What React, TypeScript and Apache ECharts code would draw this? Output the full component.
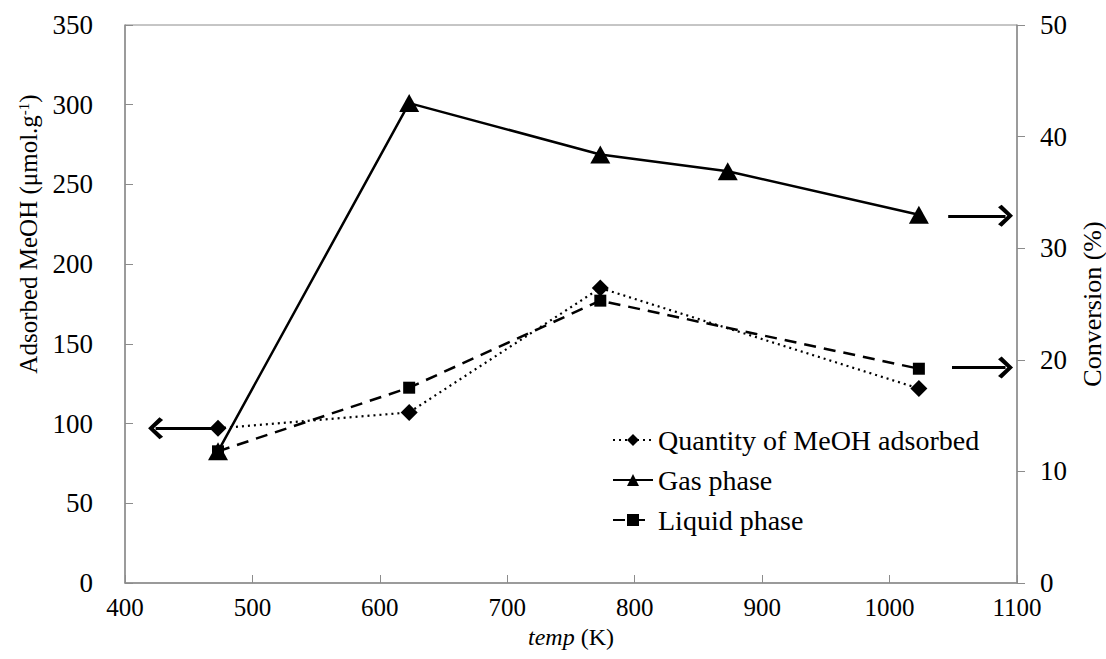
import React, { useEffect, useRef } from "react";
import * as echarts from "echarts";

const adsorbed: number[][] = [[473, 97], [623, 107], [773, 185], [1023, 122]];
const gasPhase: number[][] = [[473, 11.8], [623, 43.0], [773, 38.4], [873, 36.9], [1023, 33.0]];
const liquidPhase: number[][] = [[473, 11.8], [623, 17.5], [773, 25.3], [1023, 19.2]];
const seriesNames = ["Quantity of MeOH adsorbed", "Gas phase", "Liquid phase"];
const xTicks = { min: 400, max: 1100, interval: 100 };
const leftTicks = { min: 0, max: 350, interval: 50 };
const rightTicks = { min: 0, max: 50, interval: 10 };
// annotation arrows: [xStart, xEnd, y]
const leftArrow = [468, 424, 97];
const rightArrows = [[1046, 1091, 32.9], [1049, 1091, 19.3]];

const FONT = "'Liberation Serif', 'Times New Roman', serif";
const AXIS_COLOR = "#8c8c8c";
const chevron = "path://M0,0 L13,11 L10,14.5 L0,5.5 L-10,14.5 L-13,11 Z";

export default function App() {
  const ref = useRef<HTMLDivElement>(null);
  useEffect(() => {
    if (!ref.current) return;
    document.body.style.margin = "0";
    const chart = echarts.init(ref.current, null, { renderer: "svg" });
    const arrowLine = (x0: number, x1: number, y: number) => [
      { coord: [x0, y] },
      { coord: [x1, y] },
    ];
    const arrowMark = (data: any[]) => ({
      silent: true,
      symbol: ["none", chevron],
      symbolSize: [22, 15],
      label: { show: false },
      itemStyle: { color: "#000" },
      lineStyle: { color: "#000", width: 3, type: "solid" },
      data,
    });
    chart.setOption({
      animation: false,
      backgroundColor: "#ffffff",
      textStyle: { fontFamily: FONT, color: "#000" },
      grid: {
        left: 125,
        right: 89,
        top: 25,
        bottom: 76,
        outerBoundsMode: "none",
        containLabel: false,
        show: true,
        borderColor: AXIS_COLOR,
        borderWidth: 1,
      },
      legend: {
        orient: "vertical",
        left: 607,
        top: 421,
        itemWidth: 40,
        itemHeight: 15,
        itemGap: 12,
        textStyle: { fontFamily: FONT, fontSize: 28, color: "#000" },
        data: seriesNames,
      },
      xAxis: {
        type: "value",
        min: xTicks.min,
        max: xTicks.max,
        interval: xTicks.interval,
        name: "{i|temp} (K)",
        nameLocation: "middle",
        nameGap: 40,
        nameTextStyle: {
          fontFamily: FONT,
          fontSize: 24,
          color: "#000",
          rich: { i: { fontFamily: FONT, fontSize: 24, fontStyle: "italic", color: "#000" } },
        },
        axisLine: { lineStyle: { color: AXIS_COLOR, width: 1.5 } },
        axisTick: { inside: true, length: 8, lineStyle: { color: AXIS_COLOR } },
        axisLabel: {
          fontFamily: FONT,
          fontSize: 25,
          color: "#000",
          margin: 12,
          formatter: (v: number) => String(v),
        },
        splitLine: { show: false },
      },
      yAxis: [
        {
          type: "value",
          min: leftTicks.min,
          max: leftTicks.max,
          interval: leftTicks.interval,
          name: "Adsorbed MeOH (μmol.g{s|-1})",
          nameLocation: "middle",
          nameGap: 84,
          nameRotate: 90,
          nameTextStyle: {
            fontFamily: FONT,
            fontSize: 25,
            color: "#000",
            padding: [0, 0, 0, 140],
            rich: { s: { fontFamily: FONT, fontSize: 15, verticalAlign: "top", padding: [0, 0, 10, 0], color: "#000" } },
          },
          axisLine: { show: true, lineStyle: { color: AXIS_COLOR, width: 1.5 } },
          axisTick: { show: true, inside: true, length: 8, lineStyle: { color: AXIS_COLOR } },
          axisLabel: {
            fontFamily: FONT,
            fontSize: 27,
            color: "#000",
            margin: 32,
            formatter: (v: number) => String(v),
          },
          splitLine: { show: false },
        },
        {
          type: "value",
          position: "right",
          min: rightTicks.min,
          max: rightTicks.max,
          interval: rightTicks.interval,
          name: "Conversion (%)",
          nameLocation: "middle",
          nameGap: 62,
          nameRotate: 90,
          nameTextStyle: { fontFamily: FONT, fontSize: 26, color: "#000" },
          axisLine: { show: true, lineStyle: { color: AXIS_COLOR, width: 1.5 } },
          axisTick: { show: true, inside: false, length: 8, lineStyle: { color: AXIS_COLOR } },
          axisLabel: {
            fontFamily: FONT,
            fontSize: 27,
            color: "#000",
            margin: 23,
            formatter: (v: number) => String(v),
          },
          splitLine: { show: false },
        },
      ],
      series: [
        {
          name: seriesNames[0],
          type: "line",
          yAxisIndex: 0,
          data: adsorbed,
          symbol: "diamond",
          symbolSize: 17,
          itemStyle: { color: "#000" },
          lineStyle: { color: "#000", width: 2.2, type: [2, 4] },
          z: 3,
          markLine: arrowMark([arrowLine(leftArrow[0], leftArrow[1], leftArrow[2])]),
        },
        {
          name: seriesNames[1],
          type: "line",
          yAxisIndex: 1,
          data: gasPhase,
          symbol: "triangle",
          symbolSize: [20, 18],
          itemStyle: { color: "#000" },
          lineStyle: { color: "#000", width: 2.5, type: "solid" },
          z: 4,
          markLine: arrowMark(rightArrows.map((a) => arrowLine(a[0], a[1], a[2]))),
        },
        {
          name: seriesNames[2],
          type: "line",
          yAxisIndex: 1,
          data: liquidPhase,
          symbol: "rect",
          symbolSize: 12,
          itemStyle: { color: "#000" },
          lineStyle: { color: "#000", width: 2.5, type: [12, 8] },
          z: 3,
        },
      ],
    });
    return () => chart.dispose();
  }, []);
  return <div ref={ref} style={{ width: 1106, height: 659 }} />;
}
